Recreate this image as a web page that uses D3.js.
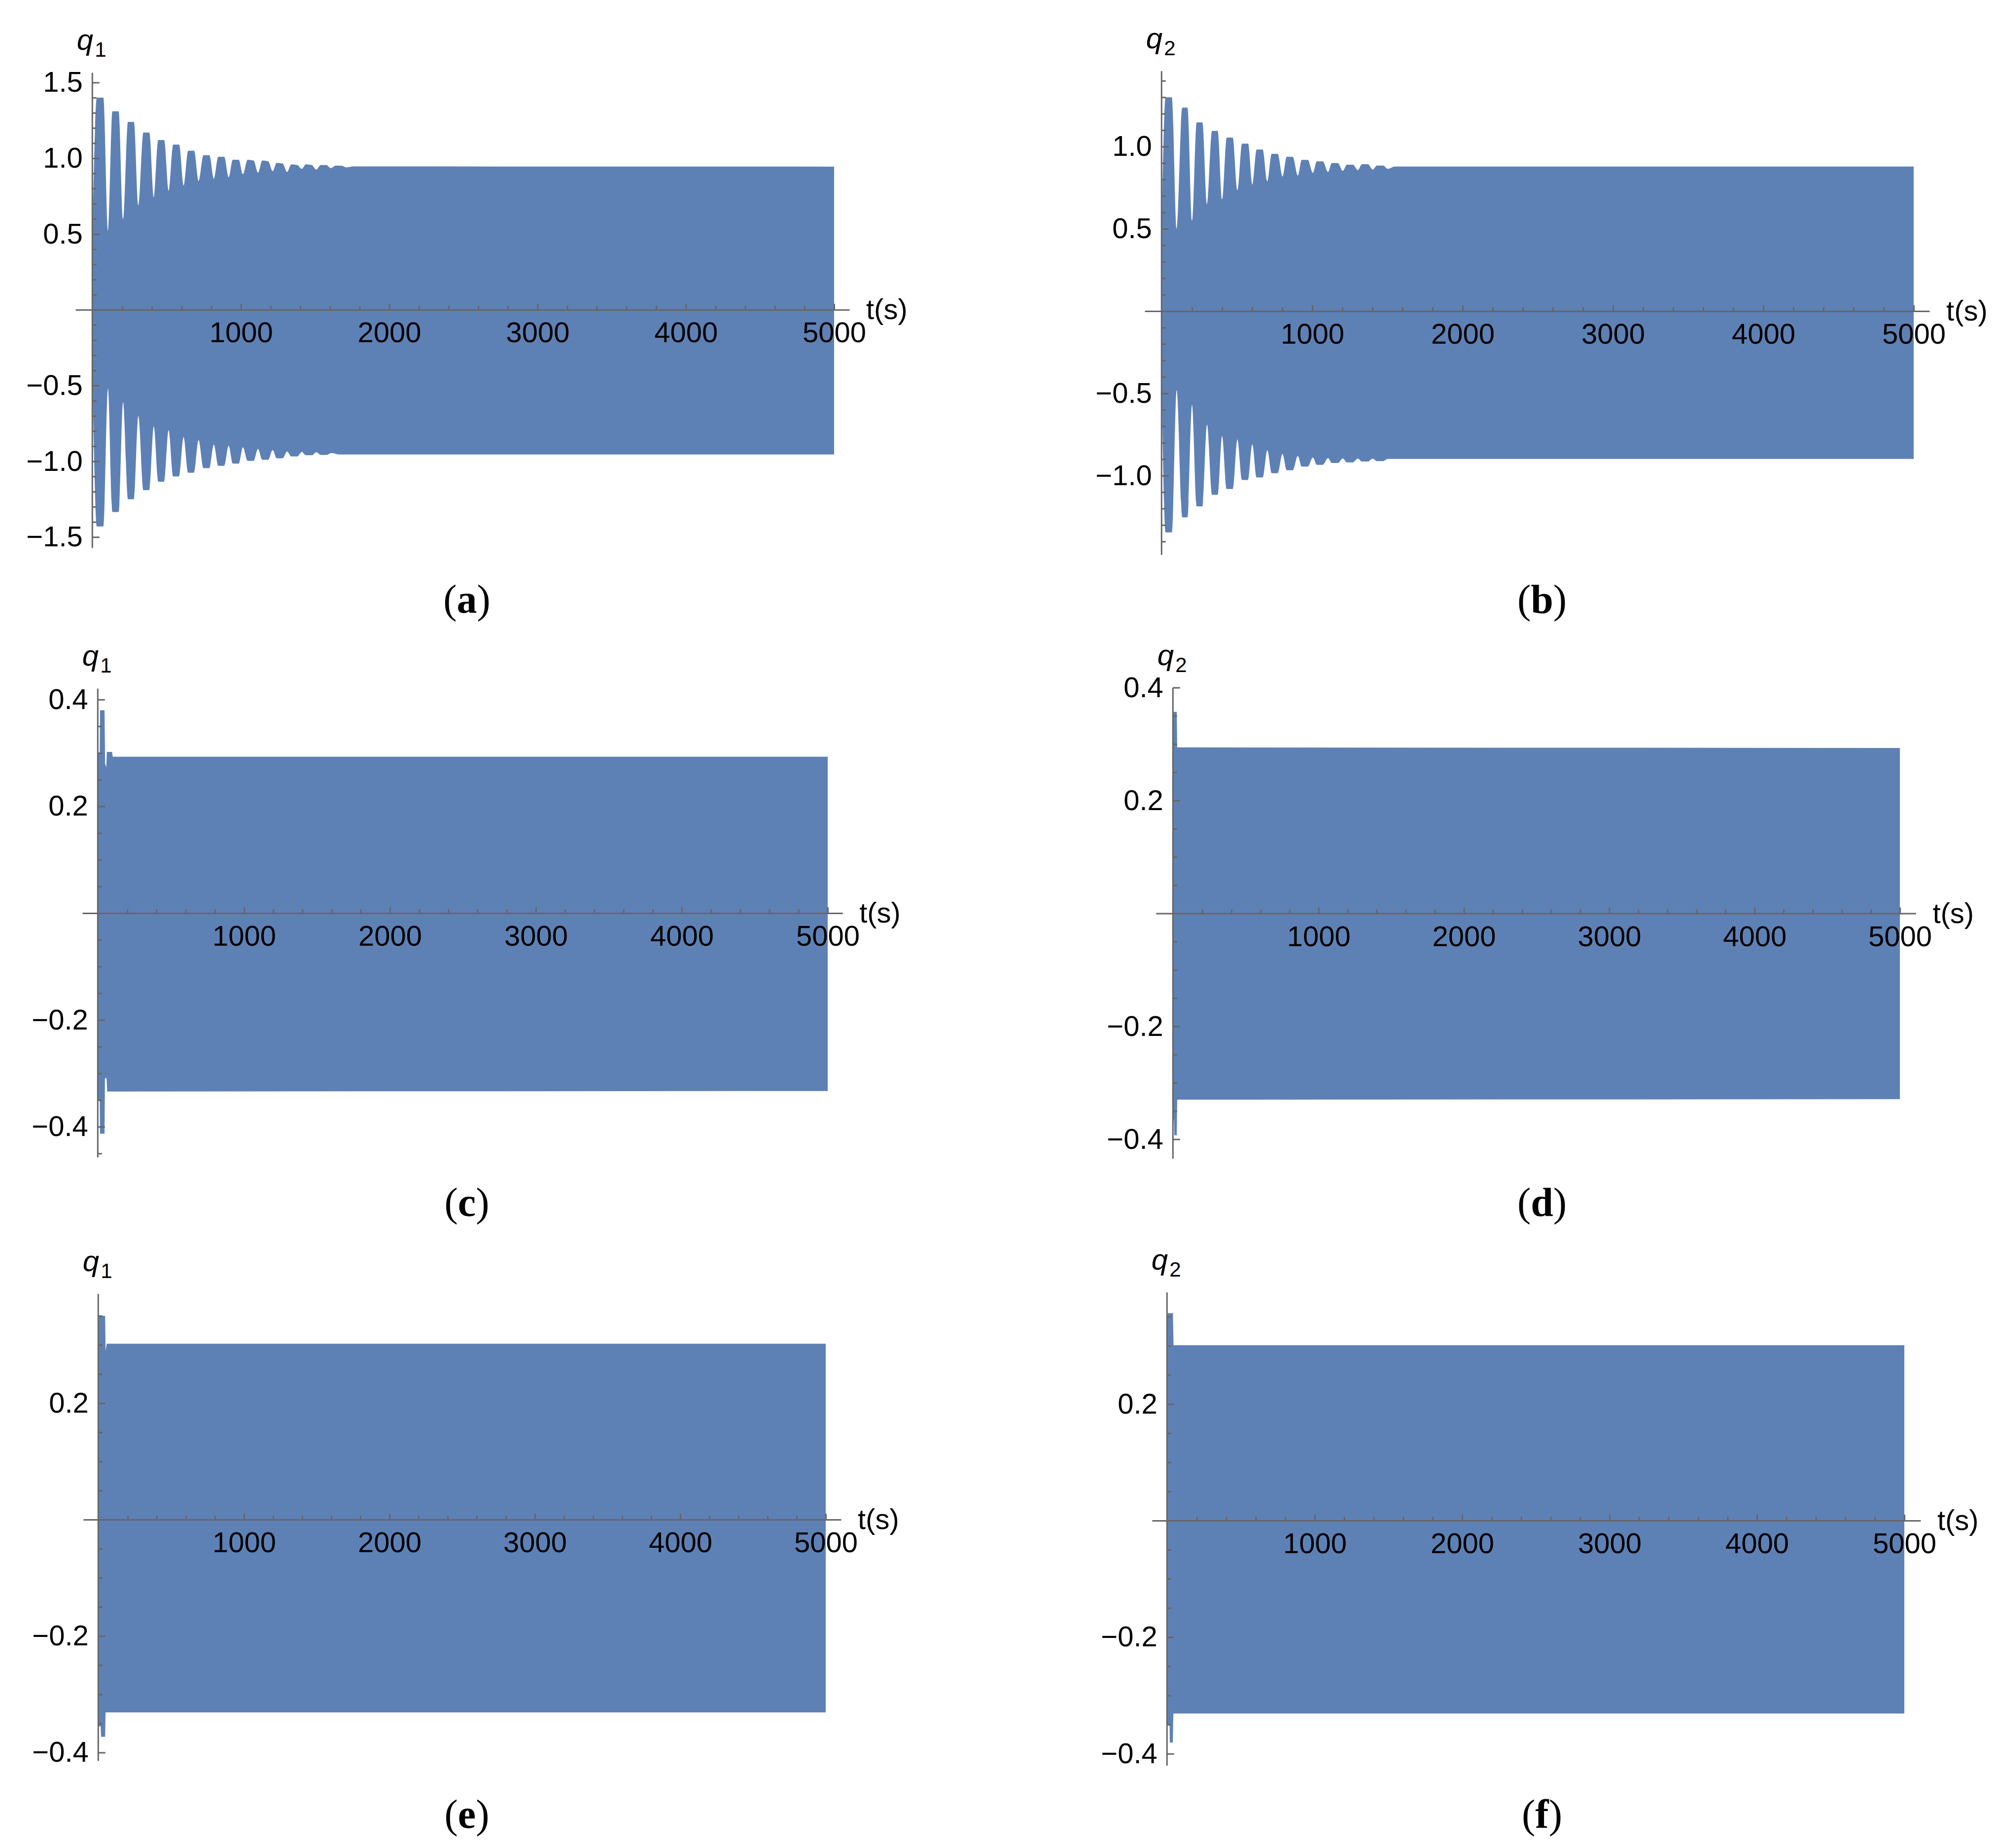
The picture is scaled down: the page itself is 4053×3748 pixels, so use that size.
<!DOCTYPE html>
<html><head><meta charset="utf-8">
<script src="https://cdn.jsdelivr.net/npm/d3@7"></script>
<style>html,body{margin:0;padding:0;background:#fff}</style>
</head><body>
<svg id="chart" width="4053" height="3748" xmlns="http://www.w3.org/2000/svg"></svg>
<script>
// ---------------- data ----------------
// envelope points [t (s), value]
const upperA = [[0,0.58],[28,1.40],[72,1.40],[103,0.52],
 [133,1.31],[175,1.31],[205,0.60],
 [238,1.24],[278,1.24],[308,0.69],
 [342,1.17],[382,1.17],[412,0.74],
 [442,1.12],[482,1.12],[512,0.785],
 [543,1.09],[583,1.09],[613,0.82],
 [644,1.05],[684,1.05],[714,0.85],
 [747,1.02],[787,1.02],[817,0.865],
 [847,1.01],[887,1.01],[917,0.875],
 [945,0.99],[985,0.99],[1013,0.895],
 [1045,0.99],[1085,0.985],[1115,0.905],
 [1144,0.985],[1184,0.98],[1214,0.915],
 [1241,0.97],[1281,0.965],[1311,0.91],
 [1340,0.96],[1380,0.955],[1410,0.93],
 [1438,0.96],[1478,0.955],[1508,0.925],
 [1538,0.955],[1576,0.955],[1606,0.935],
 [1640,0.952],[1680,0.95],[1710,0.94],
 [1760,0.946],[5000,0.945]];
const lowerA = [[0,-0.55],[28,-1.43],[72,-1.43],[103,-0.52],
 [133,-1.335],[175,-1.335],[205,-0.61],
 [238,-1.25],[278,-1.25],[308,-0.70],
 [342,-1.19],[382,-1.19],[412,-0.77],
 [442,-1.135],[482,-1.135],[512,-0.795],
 [543,-1.10],[583,-1.10],[613,-0.84],
 [644,-1.075],[684,-1.075],[714,-0.86],
 [747,-1.045],[787,-1.045],[817,-0.89],
 [847,-1.03],[887,-1.03],[917,-0.897],
 [945,-1.015],[985,-1.015],[1013,-0.908],
 [1045,-0.997],[1085,-0.997],[1115,-0.918],
 [1144,-0.99],[1184,-0.99],[1214,-0.926],
 [1241,-0.98],[1281,-0.98],[1311,-0.935],
 [1340,-0.968],[1380,-0.968],[1410,-0.938],
 [1438,-0.96],[1478,-0.96],[1508,-0.94],
 [1540,-0.958],[1580,-0.957],[1610,-0.945],
 [1660,-0.955],[5000,-0.955]];

const upperB = [[0,0.60],[24,1.30],[66,1.30],[98,0.50],
 [135,1.237],[170,1.237],[200,0.55],
 [231,1.147],[269,1.147],[300,0.65],
 [333,1.095],[371,1.095],[400,0.68],
 [431,1.055],[471,1.055],[502,0.736],
 [533,1.018],[573,1.018],[601,0.77],
 [630,0.982],[670,0.982],[701,0.79],
 [730,0.956],[770,0.956],[802,0.818],
 [830,0.938],[870,0.938],[904,0.824],
 [930,0.919],[970,0.919],[1004,0.84],
 [1030,0.91],[1070,0.91],[1105,0.846],
 [1130,0.90],[1170,0.90],[1203,0.853],
 [1230,0.89],[1270,0.89],[1303,0.857],
 [1330,0.893],[1370,0.893],[1402,0.86],
 [1430,0.885],[1470,0.885],[1502,0.865],
 [1550,0.879],[5000,0.879]];
const lowerB = [[0,-0.53],[24,-1.345],[66,-1.345],[98,-0.48],
 [135,-1.253],[170,-1.253],[200,-0.57],
 [231,-1.187],[269,-1.187],[300,-0.69],
 [333,-1.116],[371,-1.116],[400,-0.76],
 [431,-1.081],[471,-1.081],[502,-0.78],
 [533,-1.026],[573,-1.026],[601,-0.81],
 [630,-1.011],[670,-1.011],[701,-0.846],
 [730,-0.985],[770,-0.985],[802,-0.868],
 [830,-0.967],[870,-0.967],[904,-0.88],
 [930,-0.945],[970,-0.945],[1004,-0.89],
 [1030,-0.934],[1070,-0.934],[1105,-0.893],
 [1130,-0.923],[1170,-0.923],[1203,-0.895],
 [1230,-0.919],[1270,-0.919],[1303,-0.896],
 [1330,-0.914],[1370,-0.914],[1402,-0.897],
 [1430,-0.912],[1470,-0.912],[1502,-0.898],
 [1550,-0.898],[5000,-0.898]];

const upperC = [[0,0.30],[11,0.30],[13,0.38],[44,0.38],[48,0.28],[56,0.273],[60,0.302],[96,0.302],[100,0.293],
 [5000,0.293]];
const lowerC = [[0,-0.35],[11,-0.35],[13,-0.413],[44,-0.413],[47,-0.309],[58,-0.309],[62,-0.334],
 [5000,-0.333]];

const upperD = [[0,0.357],[24,0.357],[27,0.294],[5000,0.293]];
const lowerD = [[0,-0.365],[5,-0.365],[7,-0.393],[24,-0.393],[27,-0.33],[5000,-0.329]];

const upperE = [[0,0.33],[3,0.35],[45,0.35],[48,0.29],[56,0.302],[5000,0.302]];
const lowerE = [[0,-0.355],[14,-0.355],[17,-0.373],[45,-0.373],[48,-0.331],[5000,-0.331]];

const upperF = [[0,0.345],[4,0.356],[38,0.356],[42,0.301],[5000,0.301]];
const lowerF = [[0,-0.35],[15,-0.35],[17,-0.381],[37,-0.381],[41,-0.331],[5000,-0.331]];

// tick labels
const xTickLabels = [1000, 2000, 3000, 4000, 5000];
const yTicksA = [-1.5, -1.0, -0.5, 0.5, 1.0, 1.5];
const yTicksB = [-1.0, -0.5, 0.5, 1.0];
const yTicksCD = [-0.4, -0.2, 0.2, 0.4];
const yTicksEF = [-0.4, -0.2, 0.2];
const panelLetters = ["a", "b", "c", "d", "e", "f"];
const varSubs = ["1", "2", "1", "2", "1", "2"];

// ---------------- layout ----------------
const panels = [
 {upper:upperA, lower:lowerA, yTicks:yTicksA, minorStep:0.1, px0:188, per1000:300.8, tLo:-116, tHi:5103, zeroY:628.3, unit:307.3, yTop:1.566, yBot:-1.57, lx:947, ly:1243, smooth:true},
 {upper:upperB, lower:lowerB, yTicks:yTicksB, minorStep:0.1, px0:2357, per1000:305, tLo:-115, tHi:5105, zeroY:631, unit:333.7, yTop:1.46, yBot:-1.48, lx:3128, ly:1243, smooth:true},
 {upper:upperC, lower:lowerC, yTicks:yTicksCD, minorStep:0.05, px0:199, per1000:296, tLo:-108, tHi:5102, zeroY:1852, unit:1083, yTop:0.421, yBot:-0.457, lx:947, ly:2466, smooth:false},
 {upper:upperD, lower:lowerD, yTicks:yTicksCD, minorStep:0.05, px0:2380, per1000:294.8, tLo:-119, tHi:5110, zeroY:1852.5, unit:1145, yTop:0.40, yBot:-0.434, lx:3128, ly:2466, smooth:false},
 {upper:upperE, lower:lowerE, yTicks:yTicksEF, minorStep:0.05, px0:200, per1000:295, tLo:-105, tHi:5105, zeroY:3082, unit:1181, yTop:0.388, yBot:-0.414, lx:947, ly:3707, smooth:false},
 {upper:upperF, lower:lowerF, yTicks:yTicksEF, minorStep:0.05, px0:2368, per1000:299, tLo:-104, tHi:5110, zeroY:3084, unit:1182, yTop:0.392, yBot:-0.42, lx:3128, ly:3707, smooth:false}
];

const FILL = "#5e81b5";
const AXIS = "#666666";
const SANS = "'Liberation Sans', Arial, sans-serif";
const SERIF = "'Liberation Serif', 'Times New Roman', serif";
const svg = d3.select("#chart");
const axisT = -4;

panels.forEach((p, i) => {
  const k = p.per1000 / 1000;
  const x = d3.scaleLinear().domain([p.tLo, p.tHi]).range([p.px0 + p.tLo * k, p.px0 + p.tHi * k]);
  const y = d3.scaleLinear().domain([p.yBot, p.yTop]).range([p.zeroY - p.yBot * p.unit, p.zeroY - p.yTop * p.unit]);
  const g = svg.append("g");
  const curve = p.smooth ? d3.curveMonotoneX : d3.curveLinear;

  const area = d3.area().x(d => x(d[0])).y0(y(0)).y1(d => y(d[1])).curve(curve);
  g.append("path").datum(p.upper).attr("d", area).attr("fill", FILL);
  g.append("path").datum(p.lower).attr("d", area).attr("fill", FILL);

  // x axis
  const xMinor = d3.range(200, 5001, 200).filter(v => v % 1000 !== 0);
  const gxMinor = g.append("g").attr("transform", `translate(0,${y(0)})`)
    .call(d3.axisBottom(x).tickValues(xMinor).tickSizeInner(-8).tickSizeOuter(0).tickFormat(""));
  gxMinor.select(".domain").remove();
  const gx = g.append("g").attr("transform", `translate(0,${y(0)})`)
    .call(d3.axisBottom(x).tickValues(xTickLabels).tickSizeInner(-12).tickSizeOuter(0)
      .tickPadding(25).tickFormat(d3.format("d")));

  // y axis
  const ax = x(axisT);
  const nMin = Math.floor(p.yBot / p.minorStep), nMax = Math.ceil(p.yTop / p.minorStep);
  const yMinor = d3.range(nMin, nMax + 1).map(n => +(n * p.minorStep).toFixed(3))
    .filter(v => v >= p.yBot && v <= p.yTop && v !== 0 && !p.yTicks.some(t => Math.abs(t - v) < 1e-6));
  const gyMinor = g.append("g").attr("transform", `translate(${ax},0)`)
    .call(d3.axisLeft(y).tickValues(yMinor).tickSizeInner(-9).tickSizeOuter(0).tickFormat(""));
  gyMinor.select(".domain").remove();
  const gy = g.append("g").attr("transform", `translate(${ax},0)`)
    .call(d3.axisLeft(y).tickValues(p.yTicks).tickSizeInner(-15).tickSizeOuter(0)
      .tickPadding(19).tickFormat(d3.format(".1f")));

  [gx, gy, gxMinor, gyMinor].forEach(a => {
    a.selectAll("path.domain").attr("stroke", AXIS).attr("stroke-width", 3);
    a.selectAll(".tick line").attr("stroke", AXIS).attr("stroke-width", 3);
    a.selectAll("text").attr("font-family", SANS).attr("font-size", 58).attr("fill", "#000");
  });

  // t(s)
  g.append("text").attr("x", x(p.tHi) + 34).attr("y", y(0) + 19)
    .attr("font-family", SANS).attr("font-size", 58).attr("fill", "#000").text("t(s)");

  // q label
  const q = g.append("text").attr("x", ax - 31).attr("y", y(p.yTop) - 46)
    .attr("font-family", SANS).attr("fill", "#000");
  q.append("tspan").attr("font-size", 60).attr("font-style", "italic").text("q");
  q.append("tspan").attr("font-size", 42).attr("dy", 14).attr("dx", 3).text(varSubs[i]);

  // panel label
  const pl = g.append("text").attr("x", p.lx).attr("y", p.ly).attr("text-anchor", "middle")
    .attr("font-family", SERIF).attr("font-size", 82).attr("fill", "#000");
  pl.append("tspan").text("(");
  pl.append("tspan").attr("font-weight", "bold").text(panelLetters[i]);
  pl.append("tspan").text(")");
});
</script>
</body></html>
